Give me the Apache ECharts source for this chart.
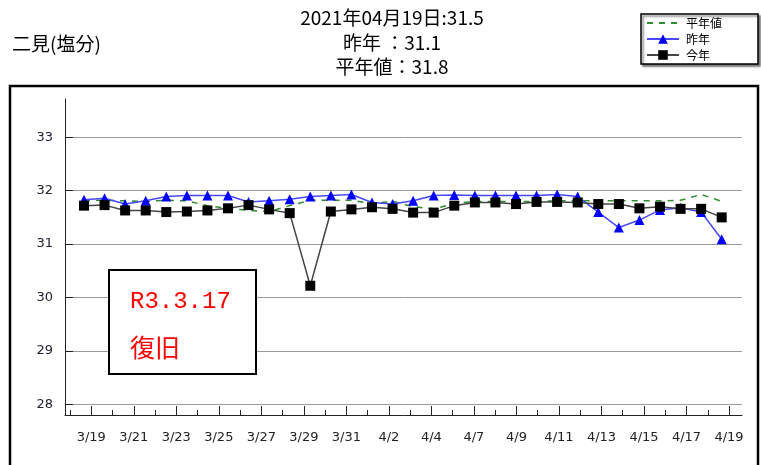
<!DOCTYPE html>
<html>
<head>
<meta charset="utf-8">
<title>二見(塩分)</title>
<script src="https://cdn.jsdelivr.net/npm/echarts@6/dist/echarts.min.js"></script>
<style>
    html, body { margin: 0; padding: 0; background: #fff; }
    #salt-chart { width: 761px; height: 465px; }
</style>
</head>
<body>
<div id="salt-chart"></div>
<script>
    // 日付 (3/19 ～ 4/19)
    let dates = ['3/19', '3/20', '3/21', '3/22', '3/23', '3/24', '3/25', '3/26', '3/27', '3/28', '3/29', '3/30', '3/31',
        '4/1', '4/2', '4/3', '4/4', '4/5', '4/6', '4/7', '4/8', '4/9', '4/10', '4/11', '4/12', '4/13', '4/14', '4/15',
        '4/16', '4/17', '4/18', '4/19'];
    // 目盛りラベル
    let tickLabels = ['3/19', '3/21', '3/23', '3/25', '3/27', '3/29', '3/31', '4/2', '4/4', '4/7', '4/9', '4/11',
        '4/13', '4/15', '4/17', '4/19'];
    let yTicks = [28, 29, 30, 31, 32, 33];
    // 平年値
    let normalValues = [31.82, 31.82, 31.81, 31.80, 31.82, 31.81, 31.72, 31.67, 31.63, 31.61, 31.72, 31.82, 31.82,
        31.82, 31.76, 31.80, 31.70, 31.66, 31.76, 31.80, 31.80, 31.80, 31.80, 31.81, 31.81, 31.81, 31.81, 31.81,
        31.81, 31.82, 31.93, 31.80];
    // 昨年
    let lastYear = [31.83, 31.86, 31.75, 31.81, 31.89, 31.91, 31.91, 31.91, 31.79, 31.81, 31.84, 31.89, 31.91,
        31.93, 31.78, 31.75, 31.81, 31.91, 31.92, 31.91, 31.91, 31.91, 31.91, 31.93, 31.89, 31.60, 31.31, 31.45,
        31.64, 31.68, 31.60, 31.09];
    // 今年
    let thisYear = [31.72, 31.73, 31.63, 31.63, 31.60, 31.61, 31.63, 31.67, 31.73, 31.65, 31.58, 30.22, 31.61,
        31.65, 31.69, 31.66, 31.59, 31.59, 31.72, 31.78, 31.78, 31.75, 31.79, 31.79, 31.78, 31.75, 31.75, 31.67,
        31.70, 31.66, 31.66, 31.5];
    let titleDate = '2021年04月19日';

    let chart = echarts.init(document.getElementById('salt-chart'));
    let last = dates.length - 1;
    let toPairs = function (arr) {
        return arr.map(function (v, i) { return [i, v]; });
    };
    let allTicks = dates.map(function (d, i) { return i; });
    let longTicks = tickLabels.map(function (d, i) { return i * 2 + 1; });
    let font = '"Noto Sans CJK JP", sans-serif';

    let titleText = titleDate + ':' + thisYear[last].toFixed(1) + '\n' +
        '昨年 ：' + lastYear[last].toFixed(1) + '\n' +
        '平年値：' + normalValues[last].toFixed(1);

    let tickAxis = {
        type: 'value',
        gridIndex: 0,
        position: 'bottom',
        min: -0.235,
        max: 31.61,
        splitLine: {show: false}
    };

    let option = {
        animation: false,
        backgroundColor: '#fff',
        grid: {left: 65, right: 19, top: 99, bottom: 50},
        legend: {
            orient: 'vertical',
            left: 641,
            top: 14,
            padding: [3, 36, 3, 5],
            itemGap: 4,
            itemWidth: 32,
            itemHeight: 12,
            borderColor: '#000',
            borderWidth: 1.5,
            shadowColor: 'rgba(0,0,0,0.5)',
            shadowBlur: 2,
            shadowOffsetX: 2,
            shadowOffsetY: 2,
            backgroundColor: '#fff',
            textStyle: {fontSize: 12, color: '#000', fontFamily: font, padding: [0, 0, 0, 2]},
            data: [
                {name: '平年値', itemStyle: {color: 'rgba(0,0,0,0)', borderWidth: 0}},
                '昨年',
                '今年'
            ]
        },
        xAxis: [
            { // データ用 (非表示)
                type: 'value',
                min: -0.9236,
                max: 31.987,
                show: false
            },
            Object.assign({}, tickAxis, { // 短い目盛り
                axisLine: {show: true, onZero: false, lineStyle: {color: '#222', width: 1}},
                axisTick: {show: true, inside: true, length: 5, customValues: allTicks, lineStyle: {color: '#222'}},
                axisLabel: {show: false}
            }),
            Object.assign({}, tickAxis, { // 長い目盛りとラベル
                axisLine: {show: false, onZero: false},
                axisTick: {show: true, inside: true, length: 9, customValues: longTicks, lineStyle: {color: '#222'}},
                axisLabel: {
                    show: true,
                    customValues: longTicks,
                    margin: 16,
                    fontSize: 13,
                    color: '#222',
                    fontFamily: 'Tahoma, "DejaVu Sans", sans-serif',
                    formatter: function (v) {
                        return tickLabels[(v - 1) / 2];
                    }
                }
            })
        ],
        yAxis: {
            type: 'value',
            min: 27.8,
            max: 33.717,
            axisLine: {show: true, onZero: false, lineStyle: {color: '#222', width: 1}},
            axisTick: {show: true, inside: true, length: 8, customValues: yTicks, lineStyle: {color: '#222'}},
            axisLabel: {
                customValues: yTicks,
                margin: 12,
                fontSize: 13,
                color: '#223',
                fontFamily: 'Tahoma, "DejaVu Sans", sans-serif'
            },
            splitLine: {show: true, lineStyle: {color: '#9a9a9a', width: 1}}
        },
        graphic: [
            { // 外枠
                type: 'rect',
                shape: {x: 10, y: 86, width: 748, height: 420},
                style: {fill: null, stroke: '#000', lineWidth: 2.5},
                silent: true
            },
            {
                type: 'text',
                x: 12,
                y: 44,
                style: {text: '二見(塩分)', font: '19px ' + font, fill: '#000', textVerticalAlign: 'middle'}
            },
            {
                type: 'text',
                x: 392,
                y: 6,
                style: {
                    text: titleText,
                    font: '19px ' + font,
                    fill: '#000',
                    textAlign: 'center',
                    lineHeight: 24.5
                }
            },
            { // 注記
                type: 'rect',
                shape: {x: 109, y: 270, width: 147, height: 104},
                style: {fill: '#fff', stroke: '#000', lineWidth: 2},
                z: 100
            },
            {
                type: 'text',
                x: 130,
                y: 302,
                z: 101,
                style: {text: 'R3.3.17', font: '24px "Liberation Mono", monospace', fill: '#ff0000',
                    textVerticalAlign: 'middle'}
            },
            {
                type: 'text',
                x: 130,
                y: 347,
                z: 101,
                style: {text: '復旧', font: '25px ' + font, fill: '#ff0000', textVerticalAlign: 'middle'}
            }
        ],
        series: [
            {
                name: '平年値',
                type: 'line',
                xAxisIndex: 0,
                data: toPairs(normalValues),
                symbol: 'none',
                lineStyle: {color: '#2e8b2e', width: 1.5, type: [6, 6]},
                itemStyle: {color: '#2e8b2e'}
            },
            {
                name: '昨年',
                type: 'line',
                xAxisIndex: 0,
                data: toPairs(lastYear),
                symbol: 'triangle',
                symbolSize: 10,
                lineStyle: {color: '#4848ff', width: 1.5},
                itemStyle: {color: '#0000ff'}
            },
            {
                name: '今年',
                type: 'line',
                xAxisIndex: 0,
                data: toPairs(thisYear),
                symbol: 'rect',
                symbolSize: 10,
                lineStyle: {color: '#444', width: 1.5},
                itemStyle: {color: '#000'}
            }
        ]
    };
    chart.setOption(option);
</script>
</body>
</html>
